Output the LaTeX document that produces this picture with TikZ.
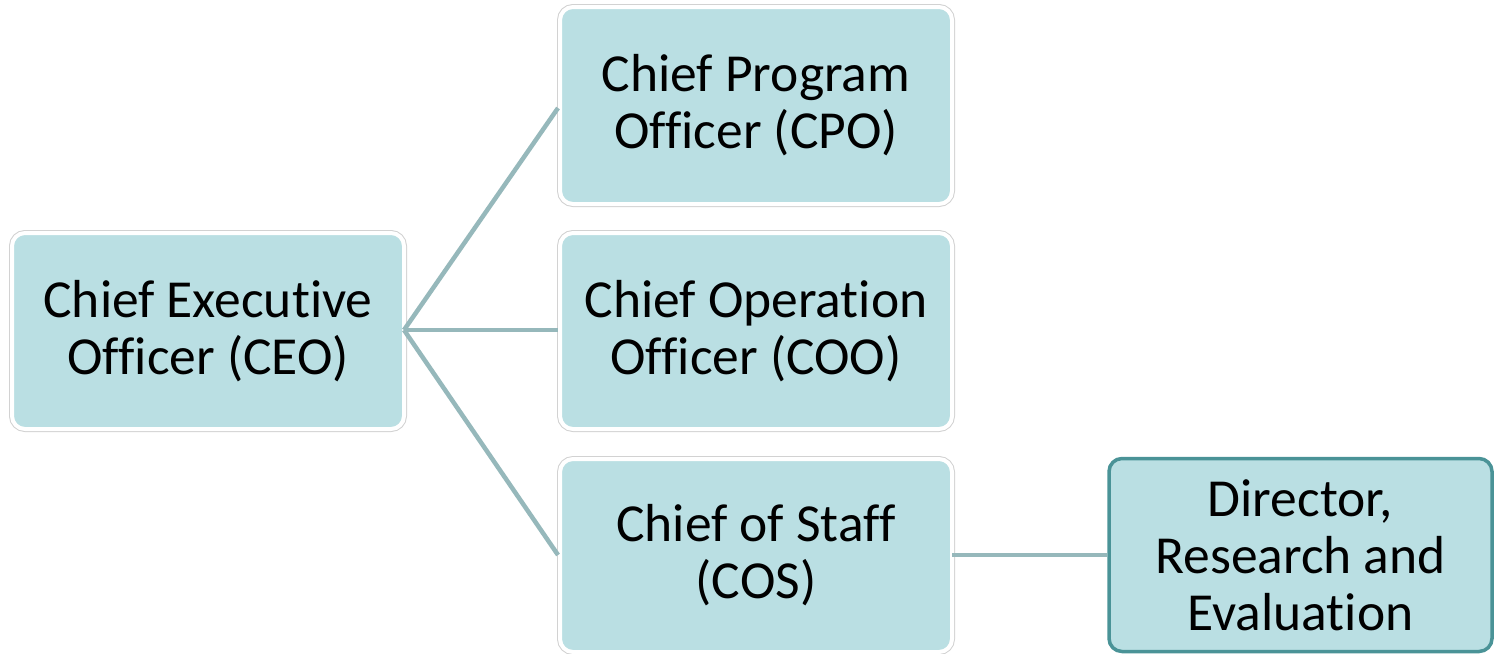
\documentclass[tikz,border=0pt]{standalone}
\usepackage{fontspec}
\setmainfont{Carlito}[Ligatures=NoCommon]
\definecolor{boxfill}{HTML}{BADFE3}
\definecolor{linkc}{HTML}{96B8BB}
\definecolor{edgec}{HTML}{4A9397}
\definecolor{outl}{HTML}{D2D2D2}
\tikzset{
  orgbox/.style={rounded corners=13pt, fill=boxfill, draw=white, line width=4pt,
    preaction={draw=outl, line width=6pt, rounded corners=13pt},
    inner sep=0pt, align=center, minimum width=392pt, text=black,
    font=\fontsize{53.5pt}{57pt}\selectfont},
  dirbox/.style={rounded corners=13pt, fill=boxfill, draw=edgec, line width=3.5pt,
    inner sep=0pt, align=center, minimum width=383pt, minimum height=193pt, text=black,
    font=\fontsize{53.5pt}{57pt}\selectfont},
  link/.style={draw=linkc, line width=4.5pt}
}
\begin{document}
\begin{tikzpicture}[x=1pt,y=-1pt]
\useasboundingbox (0,0) rectangle (1495,653);
\node[orgbox, minimum height=196pt] (ceo) at (208,331) {Chief Executive\\Officer (CEO)};
\node[orgbox, minimum height=197pt] (cpo) at (756,105.5) {Chief Program\\Officer (CPO)};
\node[orgbox, minimum height=196pt] (coo) at (756,331) {Chief Operation\\Officer (COO)};
\node[orgbox, minimum height=193pt] (cos) at (756,555.5) {Chief of Staff\\(COS)};
\node[dirbox] (dir) at (1300.5,555) {Director,\\Research and\\Evaluation};
\coordinate (hub) at (404,330);
\coordinate (tcpo) at (558,108);
\coordinate (tcoo) at (558,330);
\coordinate (tcos) at (558,555);
\coordinate (scos) at (952,555);
\coordinate (tdir) at (1107,555);
\draw[link] (hub) -- (tcpo);
\draw[link] (hub) -- (tcoo);
\draw[link] (hub) -- (tcos);
\draw[link] (scos) -- (tdir);
\end{tikzpicture}
\end{document}
